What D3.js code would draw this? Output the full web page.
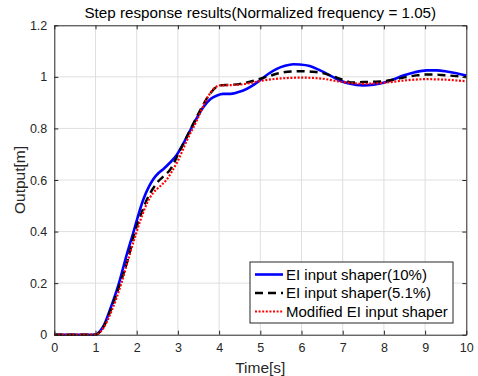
<!DOCTYPE html>
<html>
<head>
<meta charset="utf-8">
<script src="https://cdn.jsdelivr.net/npm/d3@7"></script>
<style>
  body { margin: 0; background: #fff; }
  svg { font-family: "Liberation Sans", Arial, sans-serif; }
</style>
</head>
<body>
<svg id="figure" width="478" height="376"></svg>
<script>
// step responses
const tBlue = [0, 1.0, 1.1, 1.2, 1.35, 1.57, 1.75, 1.92, 2.05, 2.17, 2.3, 2.41, 2.53, 2.65, 2.8, 2.97, 3.13, 3.3, 3.45, 3.62, 3.8, 3.95, 4.1, 4.27, 4.45, 4.6, 4.8, 5.0, 5.2, 5.4, 5.6, 5.8, 5.96, 6.2, 6.45, 6.7, 6.93, 7.18, 7.5, 7.75, 7.99, 8.23, 8.47, 8.75, 9.04, 9.28, 9.52, 9.76, 10];
const vBlue = [0, 0, 0.012, 0.035, 0.096, 0.2, 0.306, 0.397, 0.47, 0.528, 0.575, 0.605, 0.627, 0.643, 0.666, 0.697, 0.741, 0.793, 0.838, 0.883, 0.915, 0.928, 0.934, 0.934, 0.94, 0.948, 0.965, 0.988, 1.012, 1.031, 1.043, 1.049, 1.048, 1.042, 1.025, 1.005, 0.986, 0.973, 0.967, 0.97, 0.977, 0.99, 1.005, 1.018, 1.025, 1.025, 1.021, 1.014, 1.005];

const tBlack = [0, 1.0, 1.1, 1.2, 1.37, 1.6, 1.8, 1.94, 2.1, 2.25, 2.4, 2.53, 2.65, 2.81, 3.05, 3.3, 3.54, 3.78, 4.02, 4.27, 4.51, 4.75, 5.0, 5.25, 5.5, 5.75, 6.0, 6.25, 6.5, 6.75, 7.0, 7.25, 7.5, 7.75, 8.0, 8.25, 8.5, 8.75, 9.0, 9.25, 9.5, 9.75, 10];
const vBlack = [0, 0, 0.01, 0.032, 0.096, 0.2, 0.3, 0.39, 0.465, 0.525, 0.568, 0.596, 0.614, 0.64, 0.715, 0.795, 0.87, 0.935, 0.967, 0.969, 0.973, 0.981, 0.993, 1.005, 1.016, 1.021, 1.022, 1.02, 1.015, 1.003, 0.989, 0.978, 0.98, 0.981, 0.983, 0.99, 0.998, 1.005, 1.009, 1.009, 1.006, 1.003, 0.999];

const tRed = [0, 1.0, 1.1, 1.2, 1.4, 1.63, 1.8, 1.98, 2.1, 2.25, 2.4, 2.49, 2.6, 2.73, 2.85, 3.01, 3.22, 3.46, 3.66, 3.87, 4.02, 4.27, 4.5, 4.75, 5.0, 5.5, 6.0, 6.5, 7.0, 7.5, 8.0, 8.5, 9.0, 9.5, 10];
const vRed = [0, 0, 0.008, 0.028, 0.096, 0.2, 0.295, 0.39, 0.448, 0.51, 0.55, 0.565, 0.58, 0.602, 0.632, 0.678, 0.754, 0.831, 0.902, 0.954, 0.967, 0.968, 0.970, 0.976, 0.984, 0.994, 0.997, 0.993, 0.980, 0.973, 0.977, 0.986, 0.991, 0.989, 0.983];

const xTicks = [0, 1, 2, 3, 4, 5, 6, 7, 8, 9, 10];
const yTicks = [0, 0.2, 0.4, 0.6, 0.8, 1, 1.2];

const seriesNames = ["EI input shaper(10%)", "EI input shaper(5.1%)", "Modified EI input shaper"];

const margin = {top: 25.3, right: 11.7, bottom: 41.3, left: 54.3};
const width = 478 - margin.left - margin.right;
const height = 376 - margin.top - margin.bottom;

const svg = d3.select("#figure");
const g = svg.append("g")
    .attr("transform", "translate(" + margin.left + "," + margin.top + ")");

const x = d3.scaleLinear().domain([0, 10]).range([0, width]);
const y = d3.scaleLinear().domain([0, 1.2]).range([height, 0]);

// grid
g.append("g").selectAll("line").data(xTicks.slice(1, -1)).join("line")
    .attr("x1", d => x(d)).attr("x2", d => x(d))
    .attr("y1", 0).attr("y2", height)
    .attr("stroke", "#dfdfdf").attr("stroke-width", 1);
g.append("g").selectAll("line").data(yTicks.slice(1, -1)).join("line")
    .attr("y1", d => y(d)).attr("y2", d => y(d))
    .attr("x1", 0).attr("x2", width)
    .attr("stroke", "#dfdfdf").attr("stroke-width", 1);

// curves
const series = [
    {t: tBlue, v: vBlue, color: "#0000ff", w: 2.6, dash: null},
    {t: tBlack, v: vBlack, color: "#000000", w: 2.4, dash: "8,5"},
    {t: tRed, v: vRed, color: "#ff0000", w: 2.2, dash: "2,1.6"}
];

const line = d3.line()
    .x(d => x(d[0]))
    .y(d => y(d[1]))
    .curve(d3.curveMonotoneX);

series.forEach(s => {
    const pts = s.t.map((t, i) => [t, s.v[i]]);
    g.append("path")
        .datum(pts)
        .attr("fill", "none")
        .attr("stroke", s.color)
        .attr("stroke-width", s.w)
        .attr("stroke-dasharray", s.dash)
        .attr("d", line);
});

// axes, ticks inward, box on
const axisColor = "#262626";
const tickLen = 4;

const xAxis = g.append("g").attr("transform", "translate(0," + height + ")")
    .call(d3.axisBottom(x).tickValues(xTicks).tickFormat(d3.format("d")).tickSizeInner(-tickLen).tickSizeOuter(0).tickPadding(8));
const yAxis = g.append("g")
    .call(d3.axisLeft(y).tickValues(yTicks).tickFormat(d => d3.format("")(d)).tickSizeInner(-tickLen).tickSizeOuter(0).tickPadding(7));
const xTop = g.append("g")
    .call(d3.axisTop(x).tickValues(xTicks).tickFormat("").tickSizeInner(-tickLen).tickSizeOuter(0));
const yRight = g.append("g").attr("transform", "translate(" + width + ",0)")
    .call(d3.axisRight(y).tickValues(yTicks).tickFormat("").tickSizeInner(-tickLen).tickSizeOuter(0));

[xAxis, yAxis, xTop, yRight].forEach(a => {
    a.selectAll("path, line").attr("stroke", axisColor);
    a.selectAll("text").attr("fill", axisColor)
        .style("font-size", "12.5px")
        .style("font-family", "'Liberation Sans', Arial, sans-serif");
});

// title and labels
svg.append("text")
    .attr("x", margin.left + width / 2)
    .attr("y", 18)
    .attr("text-anchor", "middle")
    .attr("fill", "#000")
    .style("font-size", "15.2px")
    .text("Step response results(Normalized frequency = 1.05)");

svg.append("text")
    .attr("x", margin.left + width / 2)
    .attr("y", 373)
    .attr("text-anchor", "middle")
    .attr("fill", axisColor)
    .style("font-size", "15.5px")
    .text("Time[s]");

svg.append("text")
    .attr("transform", "translate(25," + (margin.top + height / 2) + ") rotate(-90)")
    .attr("text-anchor", "middle")
    .attr("fill", axisColor)
    .style("font-size", "15.5px")
    .text("Output[m]");

// legend
const legend = svg.append("g").attr("transform", "translate(250,262)");
legend.append("rect")
    .attr("width", 203).attr("height", 61)
    .attr("fill", "#fff").attr("stroke", axisColor).attr("stroke-width", 1);

const rowY = [12.5, 31, 49.5];
series.forEach((s, i) => {
    legend.append("line")
        .attr("x1", 5).attr("x2", 33)
        .attr("y1", rowY[i]).attr("y2", rowY[i])
        .attr("stroke", s.color)
        .attr("stroke-width", s.w)
        .attr("stroke-dasharray", s.dash);
    legend.append("text")
        .attr("x", 36).attr("y", rowY[i] + 5)
        .attr("fill", "#000")
        .style("font-size", "15px")
        .text(seriesNames[i]);
});
</script>
</body>
</html>
